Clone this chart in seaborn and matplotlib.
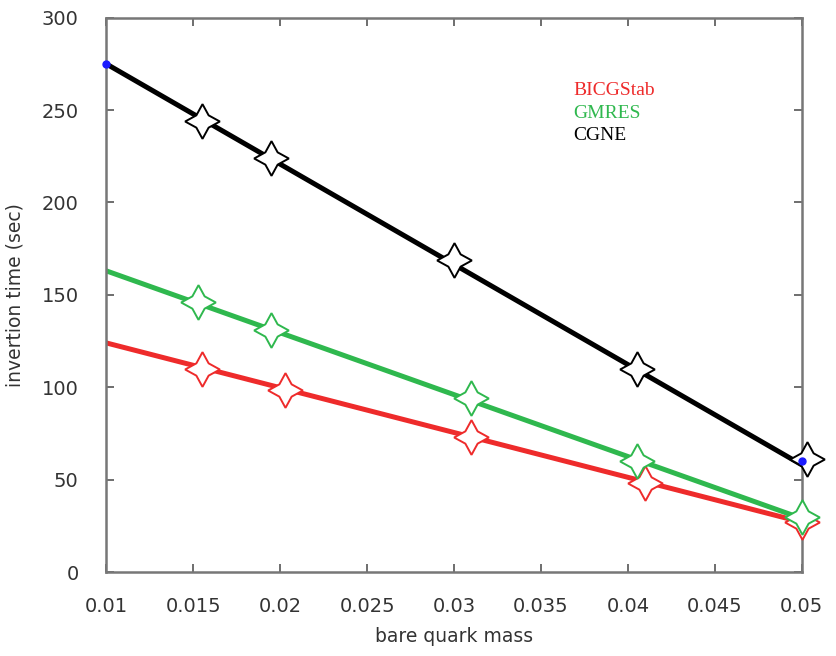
import matplotlib
matplotlib.use('Agg')
import matplotlib.pyplot as plt
import seaborn as sns
import pandas as pd

# fitted lines (end points)
line_mass = [0.01, 0.05]
bicg_fit = [124, 27]
gmres_fit = [163, 29]
cgne_fit = [275, 58]

# measured points
bicg_mass = [0.0155, 0.0203, 0.031, 0.041, 0.05]
bicg_time = [110, 98.5, 73, 48, 27]
gmres_mass = [0.0153, 0.0195, 0.031, 0.0405, 0.05]
gmres_time = [146, 131, 94, 60, 30]
cgne_mass = [0.0155, 0.0195, 0.030, 0.0405, 0.0503]
cgne_time = [244, 224, 169, 110, 61]

names = ['BICGStab', 'GMRES', 'CGNE']
colors = ['#ee2b2b', '#2fb84e', '#000000']

sns.set_theme(style='white')
plt.rcParams['font.family'] = ['DejaVu Sans']

fig, ax = plt.subplots(figsize=(8.37, 6.56), dpi=100)
fig.subplots_adjust(left=0.127, right=0.958, top=0.973, bottom=0.128)

fits = [bicg_fit, gmres_fit, cgne_fit]
pts = [(bicg_mass, bicg_time), (gmres_mass, gmres_time), (cgne_mass, cgne_time)]

for name, col, fit, (m, t) in zip(names, colors, fits, pts):
    df_line = pd.DataFrame({'mass': line_mass, 'time': fit})
    sns.lineplot(x='mass', y='time', data=df_line, color=col, linewidth=3.6, ax=ax, zorder=2)
    ax.plot(m, t, linestyle='none', marker=(4, 1, 0), markersize=25,
            markerfacecolor='white', markeredgecolor=col, markeredgewidth=1.4, zorder=3,
            clip_on=False)

# small blue end marks on the CGNE line
ax.plot([line_mass[0], line_mass[1]], [cgne_fit[0], cgne_fit[1] + 2], linestyle='none',
        marker='o', markersize=5, color='#1a1aff', zorder=4, clip_on=False)

ax.set_xlim(0.01, 0.05)
ax.set_ylim(0, 300)
ax.set_xticks([0.01, 0.015, 0.02, 0.025, 0.03, 0.035, 0.04, 0.045, 0.05])
ax.set_xticklabels(['0.01', '0.015', '0.02', '0.025', '0.03', '0.035', '0.04', '0.045', '0.05'])
ax.set_yticks([0, 50, 100, 150, 200, 250, 300])
ax.tick_params(axis='both', direction='in', length=6, width=1.2, colors='#555555',
               labelcolor='#333333', labelsize=14, top=True, right=True,
               bottom=True, left=True)
ax.tick_params(axis='x', pad=18)
ax.tick_params(axis='y', pad=20)
for sp in ax.spines.values():
    sp.set_color('#777777')
    sp.set_linewidth(1.8)

ax.set_xlabel('bare quark mass', fontsize=13.5, color='#333333', labelpad=8)
ax.set_ylabel('invertion time (sec)', fontsize=13.5, color='#333333', labelpad=12)

for i, (name, col) in enumerate(zip(names, colors)):
    ax.text(0.672, 0.868 - i * 0.04, name, transform=ax.transAxes, color=col,
            fontsize=14, family=['Liberation Serif'], va='center', ha='left')

fig.savefig('out.png', dpi=100, facecolor='white')
